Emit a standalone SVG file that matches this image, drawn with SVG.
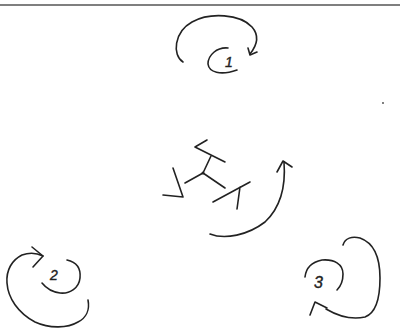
<svg xmlns="http://www.w3.org/2000/svg" width="400" height="335" viewBox="0 0 400 335">
<style>
.s{fill:none;stroke:#222;stroke-width:1.6;stroke-linecap:round;stroke-linejoin:round}
.t{font-family:"Liberation Sans",sans-serif;font-style:italic;fill:#222;stroke:#222;stroke-width:0.4}
</style>
<rect width="400" height="335" fill="#fff"/>
<line x1="0" y1="5" x2="400" y2="5" stroke="#555" stroke-width="1.5"/>
<circle cx="383" cy="103" r="0.9" fill="#444"/>
<g id="rot1">
<path class="s" d="M183,62 C172,55 174,32 192,22 C210,12 240,14 252,27 C259,35 258,44 250,54"/>
<path class="s" d="M248,48 L250,55 L257,52"/>
<path class="s" d="M228,48 C217,47 208,55 208,64 C209,72 220,76 237,70"/>
<text class="t" x="225" y="67" font-size="14">1</text>
</g>
<g id="center">
<circle cx="203" cy="173" r="1.5" fill="#222"/>
<path class="s" d="M203,173 L211,156"/>
<path class="s" d="M207,140 L195,147 L225,162"/>
<path class="s" d="M203,173 L185,183"/>
<path class="s" d="M173,168 L183,197 M163,195 L183,197"/>
<path class="s" d="M203,173 L225,188"/>
<path class="s" d="M213,202 L250,182 M240,187 L237,209"/>
<path class="s" d="M210,234 C225,240 248,235 265,222 C280,208 286,188 284,162"/>
<path class="s" d="M277,172 L283,161 L292,167"/>
</g>
<g id="rot2">
<path class="s" d="M88,300 C90,310 86,318 78,322 C68,328 50,329 35,322 C18,313 8,298 7,283 C6,270 12,260 22,255 C30,252 37,253 43,256"/>
<path class="s" d="M32,247 L43,256 L33,267"/>
<path class="s" d="M67,260 C76,262 81,268 80,278 C79,288 70,294 60,293 C52,292 46,288 42,283"/>
<text class="t" x="50" y="280" font-size="14">2</text>
</g>
<g id="rot3">
<path class="s" d="M343,245 C345,238 352,236 360,238 C374,243 380,258 380,278 C380,298 376,313 365,317 C352,320 338,316 326,309"/>
<path class="s" d="M310,315 L315,302 L327,308"/>
<path class="s" d="M305,277 C306,268 312,262 322,260 C334,259 343,264 343,274 C343,281 340,287 337,290"/>
<text class="t" x="314" y="288" font-size="16">3</text>
</g>
</svg>
